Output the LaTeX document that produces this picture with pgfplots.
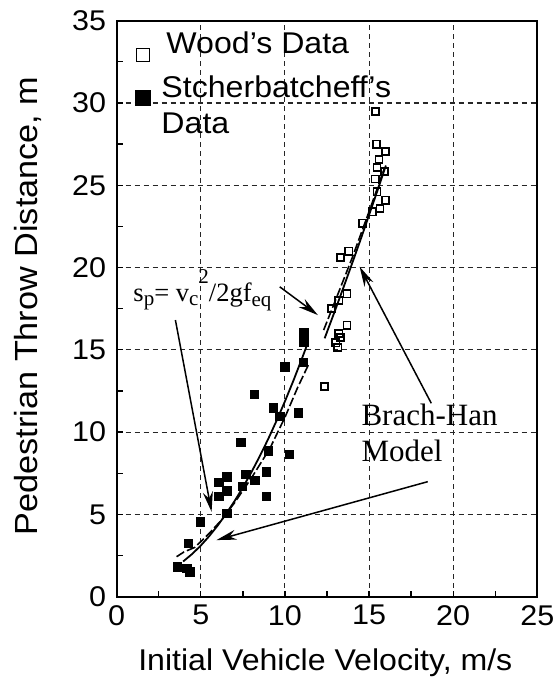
\documentclass[border=0pt]{standalone}
\usepackage{fontspec}
\setmainfont{Liberation Sans}[FakeStretch=1.07]
\newfontfamily\tnr{Liberation Serif}
\usepackage{pgfplots}
\pgfplotsset{compat=1.18}
\usetikzlibrary{arrows.meta}
\pgfplotstableread{
v s
3.60 1.82
4.15 1.72
4.35 1.52
4.25 3.24
4.98 4.56
6.07 6.12
6.07 6.97
6.53 6.44
6.53 7.29
6.53 5.07
7.36 9.38
7.46 6.73
7.67 7.45
8.20 7.09
8.19 12.30
8.90 6.12
8.90 7.59
9.00 8.87
9.30 11.48
9.69 10.98
9.99 13.97
10.25 8.67
10.80 11.18
11.10 14.24
11.12 15.50
11.12 16.04
}\stcher
\pgfplotstableread{
v s
15.37 29.47
15.45 27.50
15.98 27.05
15.59 26.57
15.47 26.09
15.92 25.85
15.36 25.38
15.47 24.60
15.98 24.10
15.65 23.60
15.19 23.39
14.60 22.70
13.80 21.00
13.30 20.60
13.69 18.40
13.20 18.00
12.76 17.50
13.69 16.50
13.20 16.00
13.30 15.76
13.03 15.42
13.15 15.15
12.36 12.76
}\wood
\pgfplotstableread{
v s
3.95 2.14
4.50 2.61
5.00 3.11
5.50 3.68
6.00 4.32
6.50 5.03
7.00 5.80
7.50 6.64
8.00 7.55
8.50 8.53
9.00 9.57
9.50 10.69
10.00 11.87
10.50 13.12
11.00 14.44
11.30 15.26
}\bhlow
\pgfplotstableread{
v s
3.56 2.43
4.00 2.72
4.65 3.00
5.50 3.85
6.23 4.66
7.00 5.70
8.00 7.20
9.10 9.00
10.00 10.90
10.75 12.70
11.40 14.10
}\eqlow
\pgfplotstableread{
v s
12.36 15.70
13.00 17.45
13.50 18.85
14.00 20.27
14.50 21.71
15.00 23.19
15.50 24.68
16.00 26.20
}\bhhigh
\pgfplotstableread{
v s
12.30 16.20
13.00 18.00
14.00 20.60
15.00 23.40
15.90 26.00
}\eqhigh
\newcommand\sub[2][-4pt]{\raisebox{#1}{\fontsize{21}{22}\selectfont #2}}
\begin{document}
\begin{tikzpicture}
\useasboundingbox (-116.7pt,-80.3pt) rectangle (436.3pt,596.7pt);
\begin{axis}[
  scale only axis, width=420.6pt, height=576pt,
  xmin=0, xmax=25, ymin=0, ymax=35,
  xtick={0,5,...,25}, ytick={0,5,...,35},
  minor x tick num=1, minor y tick num=1,
  tick align=inside, xtick pos=bottom, ytick pos=left,
  major tick length=6pt, minor tick length=6pt,
  tick style={black, line width=1.3pt},
  grid=major,
  major grid style={black!85, line width=1.1pt, dash pattern=on 5pt off 4pt},
  axis line style={line width=2pt},
  /pgf/number format/assume math mode=true,
  ticklabel style={font=\fontsize{28.5}{30}\selectfont},
  xticklabel style={yshift=-5pt},
  yticklabel style={xshift=-7pt},
  xlabel={Initial Vehicle Velocity, m/s},
  ylabel={Pedestrian Throw Distance, m},
  xlabel style={font=\fontsize{30}{32}\selectfont, at={(axis description cs:0.496,0)}, anchor=base, yshift=-73.3pt},
  ylabel style={font=\fontsize{32}{34}\selectfont, at={(axis description cs:-0.211,0.505)}, anchor=center},
  legend style={at={(axis description cs:0.0447,0.9816)}, anchor=north west, draw=none, fill=none,
    inner sep=0pt, outer sep=0pt, nodes={inner sep=0pt}, row sep=11pt, column sep=11pt,
    font=\fontsize{30}{35.6}\selectfont, cells={anchor=base west}},
]
\addlegendimage{legend image code/.code={\draw[only marks, mark=square, mark size=6.6pt, mark options={line width=1.7pt}] plot coordinates {(8pt,-2pt)};}}
\addlegendentry{\hspace{5pt}Wood's Data}
\addlegendimage{legend image code/.code={\draw[only marks, mark=square*, mark size=7.5pt, mark options={fill=black}] plot coordinates {(8pt,0pt)};}}
\addlegendentry{\begin{tabular}[t]{@{}l@{}}Stcherbatcheff's\\Data\end{tabular}}
\addplot[only marks, mark=square*, mark size=4.2pt, mark options={fill=black}] table[x=v,y=s] {\stcher};
\addplot[only marks, mark=square, mark size=3.6pt, mark options={line width=1.7pt}] table[x=v,y=s] {\wood};
\addplot[no marks, line width=1.8pt] table[x=v,y=s] {\bhlow};
\addplot[no marks, line width=1.6pt, dash pattern=on 9pt off 3pt] table[x=v,y=s] {\eqlow};
\addplot[no marks, line width=1.8pt] table[x=v,y=s] {\bhhigh};
\addplot[no marks, line width=1.6pt, dash pattern=on 9pt off 3pt] table[x=v,y=s] {\eqhigh};
\node[anchor=base west, inner sep=0pt, font=\tnr\fontsize{26.5}{28}\selectfont] at (axis cs:0.985,17.92)
  {s\sub{p}= v\sub{c}\sub[18pt]{2}/2gf\sub[-5pt]{eq}};
\node[anchor=base west, inner sep=0pt, font=\tnr\fontsize{31}{33}\selectfont] at (axis cs:14.54,10.43) {Brach-Han};
\node[anchor=base west, inner sep=0pt, font=\tnr\fontsize{31}{33}\selectfont] at (axis cs:14.54,8.20) {Model};
\draw[line width=1.5pt, -{Stealth[length=20pt,width=10pt]}] (axis cs:3.49,16.81) -- (axis cs:5.64,5.16);
\draw[line width=1.5pt, -{Stealth[length=20pt,width=10pt]}] (axis cs:9.69,18.83) -- (axis cs:11.96,17.11);
\draw[line width=1.5pt, -{Stealth[length=20pt,width=10pt]}] (axis cs:18.70,11.75) -- (axis cs:14.44,20.05);
\draw[line width=1.5pt, -{Stealth[length=20pt,width=10pt]}] (axis cs:18.49,6.99) -- (axis cs:5.93,3.44);
\end{axis}
\end{tikzpicture}
\end{document}
